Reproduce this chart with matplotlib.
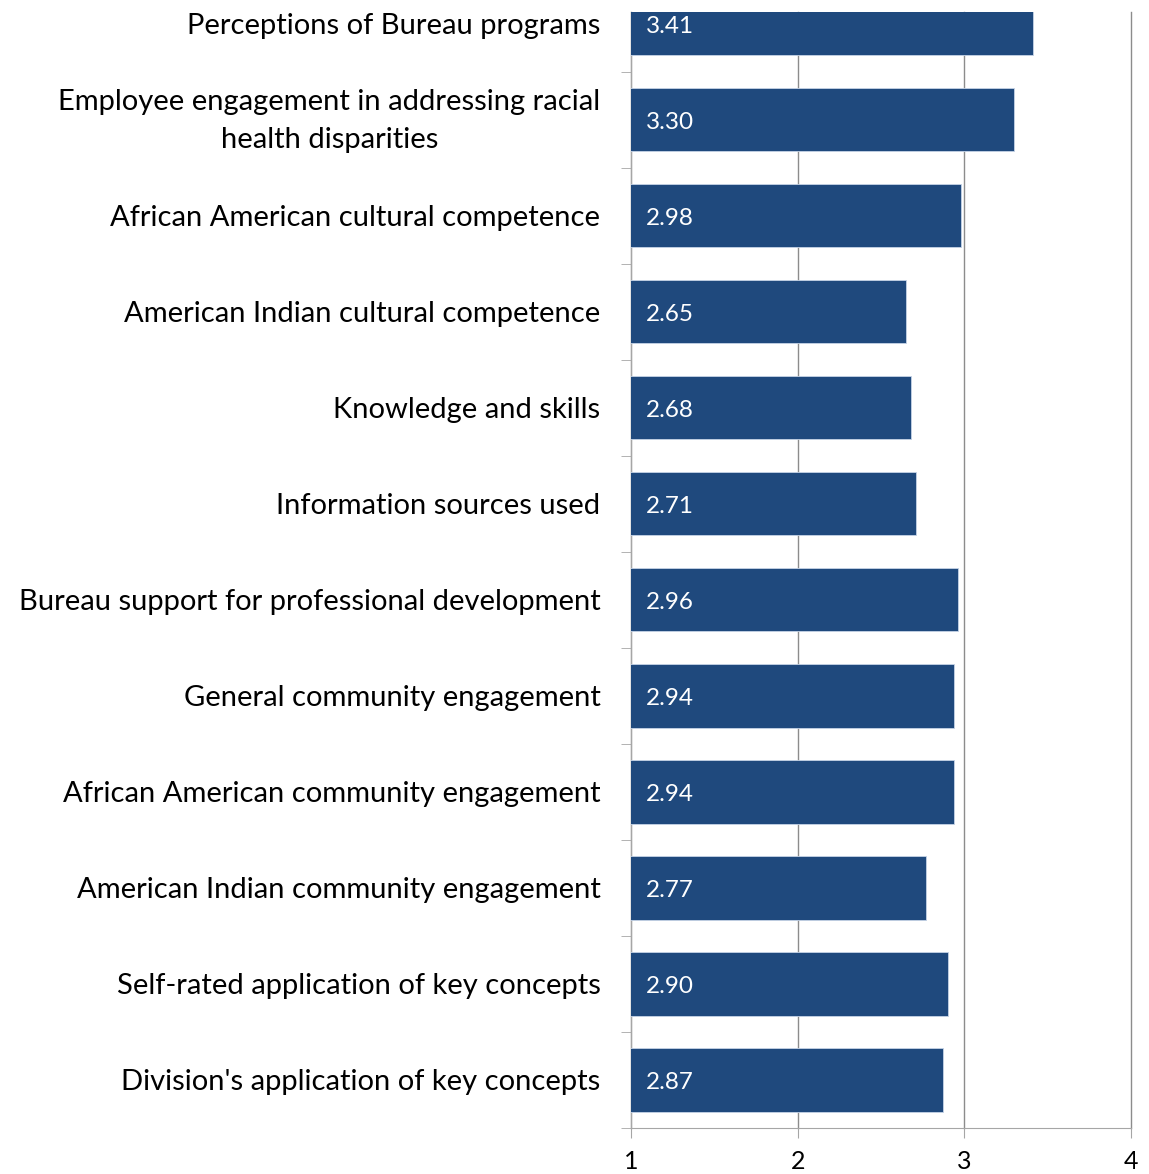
import numpy as np
import matplotlib
matplotlib.use("Agg")
import matplotlib.pyplot as plt
from matplotlib.transforms import ScaledTranslation

categories = [
    "Perceptions of Bureau programs",
    "Employee engagement in addressing racial\nhealth disparities",
    "African American cultural competence",
    "American Indian cultural competence",
    "Knowledge and skills",
    "Information sources used",
    "Bureau support for professional development",
    "General community engagement",
    "African American community engagement",
    "American Indian community engagement",
    "Self-rated application of key concepts",
    "Division's application of key concepts",
]
scores = [3.41, 3.30, 2.98, 2.65, 2.68, 2.71, 2.96, 2.94, 2.94, 2.77, 2.90, 2.87]
x_ticks = [1, 2, 3, 4]

BAR_COLOR = "#1f497d"
GRID_COLOR = "#a6a6a6"

plt.rcParams["font.family"] = ["Lato", "DejaVu Sans"]

fig = plt.figure(figsize=(11.49, 11.74), dpi=100)
ax = fig.add_axes([631 / 1149, 1 - 1128 / 1174, 500 / 1149, 1116 / 1174])

y = np.arange(len(categories))
ax.barh(y, scores, height=0.66, color=BAR_COLOR, edgecolor="#c5d3e6",
        linewidth=0.6, zorder=3)

# score labels sit just inside the left end of each bar
for yi, v in zip(y, scores):
    ax.annotate(f"{v:.2f}", xy=(1, yi), xytext=(11, -2), textcoords="offset points",
                ha="left", va="center", color="white", fontsize=17.5,
                annotation_clip=False, zorder=4)

ax.set_xlim(1, 4)
ax.set_ylim(len(categories) - 0.5, -0.12)

ax.set_xticks(x_ticks)
ax.set_xticklabels([str(t) for t in x_ticks], fontsize=18)
ax.xaxis.grid(True, color="#8c8c8c", linewidth=1.0, zorder=0)
for gl in ax.get_xgridlines():
    gl.set_clip_on(False)
ax.tick_params(axis="x", direction="out", length=7, color=GRID_COLOR, pad=9)

ax.set_yticks(y)
ax.set_yticklabels(categories, fontsize=21, multialignment="center",
                   linespacing=1.55)
ax.set_yticks(np.arange(len(categories)) + 0.5, minor=True)
ax.tick_params(axis="y", which="major", length=0, pad=22)
ax.tick_params(axis="y", which="minor", direction="out", length=7, color=GRID_COLOR)

# nudge two-line labels up so both lines centre on the bar
for lbl in ax.get_yticklabels():
    if "\n" in lbl.get_text():
        lbl.set_transform(lbl.get_transform() + ScaledTranslation(0, 0.07, fig.dpi_scale_trans))

for side in ("top", "right"):
    ax.spines[side].set_visible(False)
for side in ("left", "bottom"):
    ax.spines[side].set_color(GRID_COLOR)
ax.set_axisbelow(True)

fig.savefig("out.png", dpi=100)
